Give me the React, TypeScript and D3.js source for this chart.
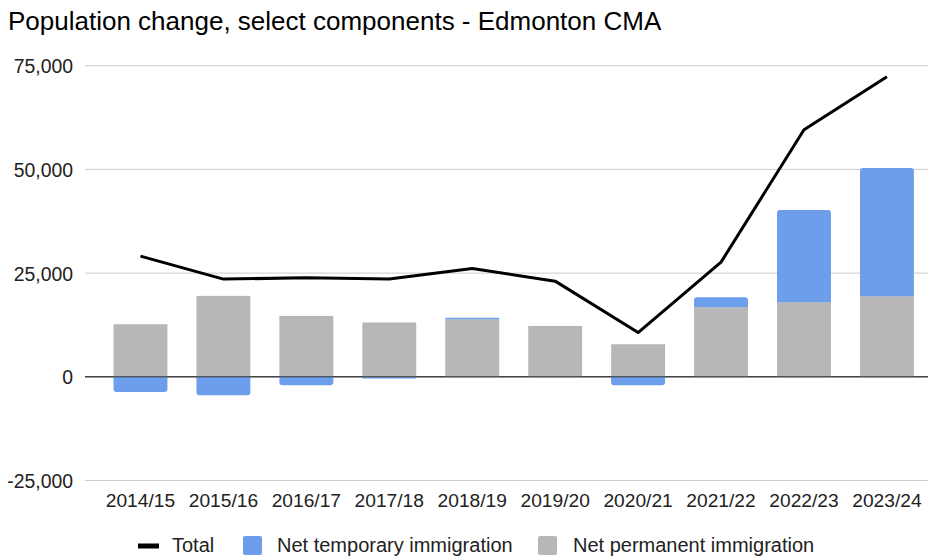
import React from "react";
import * as d3 from "d3";

const categories = ["2014/15", "2015/16", "2016/17", "2017/18", "2018/19", "2019/20", "2020/21", "2021/22", "2022/23", "2023/24"];
const permanent = [12680, 19510, 14680, 13090, 13890, 12270, 7850, 16780, 17990, 19440];
const temporary = [-3670, -4470, -2050, -430, 350, 0, -2050, 2420, 22220, 30910];
const total = [29100, 23550, 23870, 23600, 26130, 23060, 10670, 27650, 59540, 72350];
const yTicks = [-25000, 0, 25000, 50000, 75000];

const W = 932, H = 559;
const FONT = "Arial, 'Liberation Sans', Helvetica, sans-serif";
const PERM = "#b7b7b7";
const TEMP = "#6d9eeb";

function roundedBar(x: number, w: number, y0: number, y1: number, r: number) {
  const h = Math.abs(y1 - y0);
  const rr = Math.min(r, h / 2, w / 2);
  if (y1 < y0) {
    return `M${x},${y0}V${y1 + rr}Q${x},${y1} ${x + rr},${y1}H${x + w - rr}Q${x + w},${y1} ${x + w},${y1 + rr}V${y0}Z`;
  }
  return `M${x},${y0}V${y1 - rr}Q${x},${y1} ${x + rr},${y1}H${x + w - rr}Q${x + w},${y1} ${x + w},${y1 - rr}V${y0}Z`;
}

export default function App() {
  const x = d3.scaleBand<string>().domain(categories).range([99, 928.4]).paddingInner(0.35).paddingOuter(0.175);
  const y = d3.scaleLinear().domain([-25000, 75000]).range([480.5, 65.7]);
  const fmt = (v: number) => d3.format(",")(v).replace("\u2212", "-");
  const bw = x.bandwidth();
  const line = d3.line<number>().x((_, i) => (x(categories[i]) as number) + bw / 2).y((d) => y(d));

  return (
    <svg width={W} height={H} style={{ position: "absolute", left: 0, top: 0, background: "#fff" }} fontFamily={FONT}>
      <text x={8} y={30} fontSize={26} fill="#000">Population change, select components - Edmonton CMA</text>
      {yTicks.map((t) => (
        <g key={t}>
          <line x1={85} x2={928} y1={y(t)} y2={y(t)} stroke={t === 0 ? "#333" : "#cccccc"} strokeWidth={1} />
          <text x={73} y={y(t) + 7.5} textAnchor="end" fontSize={19.4} fill="#222">{fmt(t)}</text>
        </g>
      ))}
      {categories.map((c, i) => {
        const bx = x(c) as number;
        const p = permanent[i];
        const t = temporary[i];
        const base = t > 0 ? p : 0;
        return (
          <g key={c}>
            <rect x={bx} width={bw} y={y(p)} height={y(0) - y(p)} fill={PERM} />
            {t !== 0 && (
              <path d={roundedBar(bx, bw, y(base), y(base + t), 3)} fill={TEMP} />
            )}
          </g>
        );
      })}
      <line x1={85} x2={928} y1={y(0)} y2={y(0)} stroke="#333" strokeWidth={1} />
      <path d={line(total) as string} fill="none" stroke="#000" strokeWidth={3} strokeLinejoin="round" />
      {categories.map((c) => (
        <text key={c} x={(x(c) as number) + bw / 2} y={507} textAnchor="middle" fontSize={19.2} fill="#222">{c}</text>
      ))}
      <g fontSize={20} fill="#222">
        <line x1={138} x2={159} y1={546} y2={546} stroke="#000" strokeWidth={5} />
        <text x={172} y={552}>Total</text>
        <rect x={243} y={536} width={19} height={19} rx={2} fill={TEMP} />
        <text x={277} y={552}>Net temporary immigration</text>
        <rect x={538} y={536} width={19} height={19} rx={2} fill={PERM} />
        <text x={573} y={552}>Net permanent immigration</text>
      </g>
    </svg>
  );
}
